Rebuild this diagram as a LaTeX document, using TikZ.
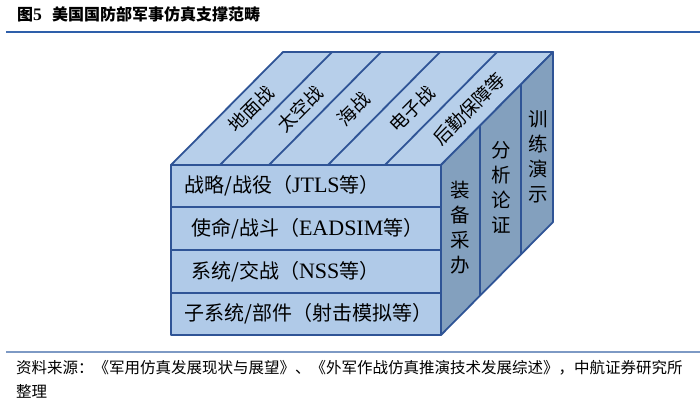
\documentclass[tikz,border=0pt]{standalone}
\usepackage{fontspec}
\setmainfont{Noto Sans CJK SC}
\newfontfamily\latin[Scale=1.1]{Liberation Serif}

\definecolor{cubeedge}{RGB}{47,84,150}
\definecolor{topblue}{RGB}{183,207,234}
\definecolor{frontblue}{RGB}{176,202,232}
\definecolor{sideblue}{RGB}{131,160,190}
\definecolor{titlerule}{RGB}{46,95,170}
\definecolor{noterule}{RGB}{125,153,196}

\begin{document}
\begin{tikzpicture}[
    x=1pt, y=-1pt,
    edge/.style      = {line width=1.8pt, draw=cubeedge, line join=round},
    frontface/.style = {edge, fill=frontblue},
    topface/.style   = {edge, fill=topblue},
    sideface/.style  = {edge, fill=sideblue},
    rowlabel/.style  = {anchor=west, inner sep=0pt,
                        font=\fontsize{20}{22}\selectfont},
    toplabel/.style  = {rotate=45, inner sep=0pt,
                        font=\fontsize{18.5}{20}\selectfont},
    sidelabel/.style = {align=center, inner sep=0pt,
                        font=\fontsize{19.5}{25}\selectfont},
  ]

  \useasboundingbox (0,0) rectangle (700,410);

  % --- cube geometry (pixels of the page, y pointing down) -----------------
  \def\xl{171}    % left edge of the front face
  \def\xr{441}    % right edge of the front face
  \def\yt{165}    % top of the front face
  \def\yb{335}    % bottom of the front face
  \def\dx{112}    % depth offset, to the right
  \def\dy{113}    % depth offset, upwards

  % --- heading and its rule --------------------------------------------------
  \node[anchor=west, inner sep=0pt, font=\bfseries\fontsize{16}{18}\selectfont]
    (title) at (17,14) {图{\latin 5}\hspace{10pt}美国国防部军事仿真支撑范畴};
  \draw[titlerule, line width=1.5pt] (6,32) -- (700,32);

  % --- top face: kinds of warfare --------------------------------------------
  \draw[topface] (\xl,\yt) -- (\xr,\yt) -- (\xr+\dx,\yt-\dy)
    -- (\xl+\dx,\yt-\dy) -- cycle;
  \foreach \x in {220, 269, 328, 385} {
    \draw[edge] (\x,\yt) -- (\x+\dx,\yt-\dy);
  }
  \foreach \x/\name/\txt in {251/ground/地面战, 300/space/太空战, 354/sea/海战,
                             412/ew/电子战, 469/logistics/后勤保障等} {
    \node[toplabel] (\name) at (\x,109) {\txt};
  }

  % --- right face: purposes ---------------------------------------------------
  \draw[sideface] (\xr,\yt) -- (\xr+\dx,\yt-\dy) -- (\xr+\dx,\yb-\dy)
    -- (\xr,\yb) -- cycle;
  \foreach \d in {39, 80} {
    \draw[edge] (\xr+\d,\yt-\d) -- (\xr+\d,\yb-\d);
  }
  \node[sidelabel] (acquisition) at (460,228) {装\\备\\采\\办};
  \node[sidelabel] (analysis)    at (501,187) {分\\析\\论\\证};
  \node[sidelabel] (training)    at (538,157) {训\\练\\演\\示};

  % --- front face: levels of simulation ---------------------------------------
  \foreach \ya/\yz in {165/207, 207/250, 250/293, 293/335} {
    \draw[frontface] (\xl,\ya) rectangle (\xr,\yz);
  }
  \node[rowlabel] (strategic) at (184,186)
    {战略/战役（{\latin JTLS}等）};
  \node[rowlabel] (mission)   at (191,228.5)
    {使命/战斗（{\latin EADSIM}等）};
  \node[rowlabel] (engagement) at (191,271.5)
    {系统/交战（{\latin NSS}等）};
  \node[rowlabel] (component) at (184,314)
    {子系统/部件（射击模拟等）};

  % --- source note -------------------------------------------------------------
  \draw[noterule, line width=2.5pt] (6,352) -- (700,352);
  \node[anchor=north west, align=left, inner sep=0pt,
        font=\fontsize{15.5}{24}\selectfont] (source) at (16,360)
    {资料来源：《军用仿真发展现状与展望》、《外军作战仿真推演技术发展综述》，中航证券研究所\\
     整理};

\end{tikzpicture}
\end{document}
